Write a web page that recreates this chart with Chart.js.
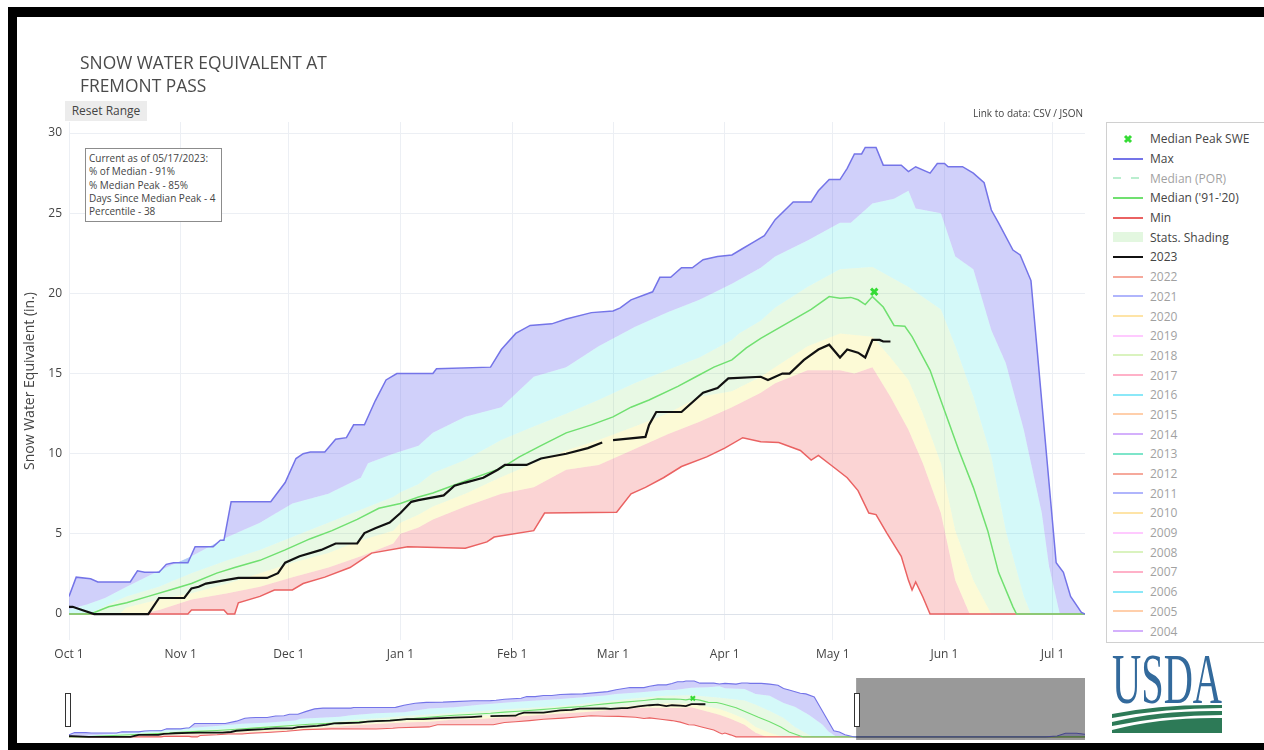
<!DOCTYPE html>
<html>
<head>
<meta charset="utf-8">
<script src="https://cdn.jsdelivr.net/npm/chart.js@4.4.0/dist/chart.umd.min.js"></script>
<style>
body { margin: 0; background: #fff; font-family: 'Open Sans', verdana, arial, sans-serif; color: #444; }
#page { position: relative; width: 1264px; height: 750px; overflow: hidden; background: #fff; }
#main { position: absolute; left: 0; top: 0; width: 1264px; height: 670px; }
#slider { position: absolute; left: 0; top: 670px; width: 1264px; height: 80px; }
#title { position: absolute; left: 80px; top: 51px; font-size: 17.4px; line-height: 23px; color: #4a4a4a; }
#reset { position: absolute; left: 65px; top: 101px; width: 82px; height: 20px; line-height: 20px; font-size: 12px; text-align: center; background: #ececec; }
#link { position: absolute; left: 880px; top: 106px; width: 203px; text-align: right; font-size: 10px; line-height: 14px; }
#info { position: absolute; left: 85px; top: 148px; width: 137px; height: 74px; box-sizing: border-box; border: 1px solid #8c8c8c; padding: 3px 0 0 3px; font-size: 10px; line-height: 13.3px; background: #fff; white-space: nowrap; }
#legend { position: absolute; left: 1106px; top: 122px; width: 160px; height: 521px; box-sizing: border-box; border: 1px solid #d0d0d0; padding: 6px 0 0 6px; background: #fff; }
.item { display: flex; align-items: center; height: 19.7px; font-size: 12px; white-space: nowrap; }
.item svg { margin-right: 7px; flex: none; }
.item.off { opacity: 0.5; }
#usda { position: absolute; left: 1111px; top: 654px; }
#frame { position: absolute; left: 8px; top: 7px; width: 1256px; height: 743px; box-sizing: border-box; border-left: 9px solid #000; border-top: 10px solid #000; border-bottom: 7px solid #000; pointer-events: none; }
</style>
</head>
<body>
<div id="page">
  <canvas id="main" width="1264" height="670"></canvas>
  <canvas id="slider" width="1264" height="80"></canvas>
  <div id="title">SNOW WATER EQUIVALENT AT<br>FREMONT PASS</div>
  <div id="reset">Reset Range</div>
  <div id="link">Link to data: CSV / JSON</div>
  <div id="info">Current as of 05/17/2023:<br>% of Median - 91%<br>% Median Peak - 85%<br>Days Since Median Peak - 4<br>Percentile - 38</div>
  <div id="legend"></div>
  <svg id="usda" width="112" height="80" viewBox="0 0 112 80">
    <text x="1" y="49" font-family="Liberation Serif" font-size="72" textLength="110" lengthAdjust="spacingAndGlyphs" fill="#336a9c">USDA</text>
    <path d="M1,60 Q50,50 111,51 L111,54 Q55,54 1,64 Z" fill="#2d7a57"/>
    <path d="M1,68 Q50,56 111,57 L111,61 Q55,61 1,72 Z" fill="#2d7a57"/>
    <path d="M1,76 Q50,63 111,64 L111,79 L1,79 Z" fill="#2d7a57"/>
  </svg>
  <div id="frame"></div>
</div>
<script>
// days counted from Oct 1 (water year 2023)
const monthDays = [0, 31, 61, 92, 123, 151, 182, 212, 243, 273];
const monthLabels = ["Oct 1", "Nov 1", "Dec 1", "Jan 1", "Feb 1", "Mar 1", "Apr 1", "May 1", "Jun 1", "Jul 1"];
const yTicks = [0, 5, 10, 15, 20, 25, 30];
const viewEnd = 282;
const yearEnd = 364;

const maxDays = [0,2,6,8,17,19,21,25,27,29,33,35,40,42,43,45,56,60,63,65,67,71,74,77,79,82,85,88,91,101,102,117,120,124,128,134,138,145,151,153,156,162,164,167,170,173,176,180,184,187,190,193,196,201,206,208,211,214,216,218,220,221,224,226,231,233,235,239,241,243,244,248,251,254,256,258,262,264,267,274,276,278,281,282,350,354,357,361,364];
const maxSwe = [1.1,2.3,2.2,2.0,2.0,2.7,2.6,2.6,3.1,3.2,3.2,4.2,4.2,4.6,4.6,7.0,7.0,8.2,9.7,10.0,10.1,10.1,10.9,11.0,11.8,11.8,13.3,14.6,15.0,15.0,15.3,15.4,16.5,17.5,18.0,18.1,18.4,18.8,18.9,19.1,19.6,20.1,21.0,21.0,21.6,21.6,22.1,22.3,22.4,22.8,23.2,23.6,24.6,25.7,25.7,26.4,27.1,27.1,27.8,28.7,28.7,29.1,29.1,28.0,28.0,27.6,27.9,27.5,28.1,28.1,27.9,27.9,27.5,26.9,25.2,24.4,22.7,22.4,20.8,3.2,2.6,1.1,0.1,0,0,0.5,1.9,1.9,1.4];

const medianDays = [0,6,11,16,22,28,34,41,46,53,60,67,73,80,86,92,97,101,110,120,125,131,138,145,151,156,161,169,174,179,184,188,192,199,206,211,214,217,219,221,223,226,229,232,234,239,243,247,251,255,258,262,263,364];
const medianSwe = [0,0,0.45,0.7,1.1,1.5,1.9,2.55,2.9,3.35,4.0,4.7,5.2,5.9,6.6,6.9,7.3,7.55,8.3,9.1,9.8,10.5,11.3,11.8,12.3,12.9,13.35,14.2,14.8,15.4,15.85,16.6,17.2,18.1,19.0,19.8,19.7,19.75,19.6,19.3,19.8,19.15,18.0,17.95,17.3,15.2,12.7,10.2,7.9,5.2,2.6,0.45,0,0];

const minDays = [0,33,34,43,44,46,47,53,57,62,65,71,78,81,84,94,110,116,118,129,132,152,156,160,165,170,177,182,187,192,197,203,206,208,212,216,219,222,224,227,231,233,234,235,237,239,364];
const minSwe = [0,0,0.25,0.25,0,0,0.7,1.1,1.5,1.5,1.9,2.3,2.9,3.35,3.8,4.2,4.1,4.5,4.8,5.2,6.3,6.35,7.5,7.9,8.5,9.2,9.8,10.35,11.0,10.75,10.7,10.2,9.6,9.9,9.2,8.5,7.7,6.3,6.2,5.05,3.6,2.1,1.5,2.0,1.06,0,0];

// percentile band edges (stats shading)
const p90Days = [0,5,10,16,25,34,44,53,62,72,81,83,90,97,101,110,120,129,138,147,157,166,175,184,192,196,205,214,217,223,229,233,235,242,246,251,256,260,265,270,272,275,364];
const p90Swe = [0.3,0.6,1.0,1.7,2.7,3.6,4.8,5.7,6.9,7.5,8.5,9.4,10.0,10.5,11.3,12.3,12.9,14.8,15.4,16.7,17.9,18.8,19.6,20.6,21.6,22.3,23.3,24.4,24.4,25.6,25.9,26.4,25.3,25.0,22.3,21.5,17.7,15.65,11.5,6.3,3.0,0,0];

const p70Days = [0,6,12,16,25,34,44,53,62,72,81,90,92,97,101,110,120,129,138,147,157,166,175,184,186,192,196,205,214,223,233,242,246,251,256,260,265,267,364];
const p70Swe = [0,0.05,0.7,1.1,1.7,2.55,3.35,4.0,4.8,5.7,6.5,7.3,7.6,8.1,8.8,9.6,10.85,11.7,12.5,13.35,14.4,15.2,16.0,17.1,17.5,18.3,19.1,20.4,21.5,21.65,20.4,19.0,16.7,13.55,9.8,5.2,1.1,0,0];

const p30Days = [0,14,16,25,34,44,53,62,72,81,90,92,97,101,110,120,129,138,147,157,166,175,184,192,196,205,214,223,228,233,237,242,246,251,256,364];
const p30Swe = [0,0,0.4,0.9,1.3,1.9,2.55,3.2,3.8,4.6,5.2,5.7,6.2,6.7,7.5,8.55,9.4,10.2,10.85,11.7,12.5,13.55,13.9,14.8,15.4,16.7,17.5,17.3,16.0,14.6,12.5,9.4,5.2,2.1,0,0];

const p10Days = [0,20,25,34,44,53,62,72,81,90,92,97,101,110,120,129,138,147,157,166,175,184,192,196,205,214,218,223,228,233,237,242,246,250,364];
const p10Swe = [0,0,0.25,0.9,1.3,1.7,2.3,2.9,3.6,4.4,5.0,5.4,5.9,6.7,7.5,7.9,9.0,9.3,10.3,11.2,12.0,12.9,13.8,14.4,15.2,15.2,15.0,15.4,13.55,11.5,9.4,6.3,2.1,0,0];

const wy2023Days = [0,1,3,7,22,25,32,34,36,38,43,47,55,58,60,64,70,74,80,82,85,89,92,95,97,104,107,110,115,119,121,127,131,138,144,148,149,151,160,161,163,170,176,180,183,192,194,198,200,204,208,211,214,216,219,221,223,225,226,228];
const wy2023Swe = [0.45,0.45,0.3,0,0,1.0,1.0,1.6,1.7,1.9,2.1,2.25,2.25,2.55,3.2,3.6,4.0,4.4,4.4,5.05,5.35,5.7,6.3,7.0,7.1,7.4,8.0,8.2,8.5,9.0,9.3,9.3,9.7,10.0,10.35,10.7,null,10.85,11.05,11.8,12.6,12.6,13.8,14.1,14.7,14.8,14.6,15.0,15.0,15.85,16.5,16.8,16.0,16.5,16.3,16.0,17.1,17.1,17.0,17.0];

const peakDays = [223.5];
const peakSwe = [20.1];

const pastYears = ["2022","2021","2020","2019","2018","2017","2016","2015","2014","2013","2012","2011","2010","2009","2008","2007","2006","2005","2004"];
const pastColors = ["#EF553B","#636efa","#FECB52","#FF97FF","#B6E880","#FF6692","#19d3f3","#FFA15A","#ab63fa","#00cc96","#EF553B","#636efa","#FECB52","#FF97FF","#B6E880","#FF6692","#19d3f3","#FFA15A","#ab63fa"];

const maxColor = "rgb(116,116,232)";
const minColor = "rgb(234,98,98)";
const medianColor = "rgb(112,224,112)";
const peakColor = "#35dc35";

function pts(days, vals) {
  return days.map((d, i) => ({ x: d, y: vals[i] }));
}

function buildDatasets(small) {
  const lw = small ? 1.1 : 1.5;
  const sets = [
    { label: "Median Peak SWE", swatch: "x", data: pts(peakDays, peakSwe), showLine: false,
      pointStyle: "crossRot", pointRadius: small ? 3 : 4.5, pointBorderWidth: small ? 2 : 3,
      borderColor: peakColor, backgroundColor: peakColor, order: -2 },
    { label: "Max", swatch: "line", data: pts(maxDays, maxSwe), borderColor: maxColor, borderWidth: lw,
      fill: 26, backgroundColor: "rgba(100,100,240,0.30)" },
    { label: "Median (POR)", swatch: "dash", legendOnly: true, data: [], borderColor: "rgb(120,222,160)" },
    { label: "Median ('91-'20)", swatch: "line", data: pts(medianDays, medianSwe), borderColor: medianColor, borderWidth: lw },
    { label: "Min", swatch: "line", data: pts(minDays, minSwe), borderColor: minColor, borderWidth: lw },
    { label: "Stats. Shading", swatch: "fill", data: pts(p70Days, p70Swe), borderColor: "transparent", borderWidth: 0,
      fill: 27, backgroundColor: "rgba(110,220,90,0.16)" },
    { label: "2023", swatch: "line", data: pts(wy2023Days, wy2023Swe), borderColor: "#111", borderWidth: small ? 1.8 : 2.2, order: -1 }
  ];
  pastYears.forEach((y, i) => {
    sets.push({ label: y, swatch: "line", legendOnly: true, data: [], borderColor: pastColors[i] });
  });
  // unlabeled band edges, index 26..28
  sets.push({ data: pts(p90Days, p90Swe), borderColor: "transparent", borderWidth: 0, fill: 5, backgroundColor: "rgba(0,222,222,0.17)" });
  sets.push({ data: pts(p30Days, p30Swe), borderColor: "transparent", borderWidth: 0, fill: 28, backgroundColor: "rgba(240,230,70,0.22)" });
  sets.push({ data: pts(p10Days, p10Swe), borderColor: "transparent", borderWidth: 0, fill: 4, backgroundColor: "rgba(240,90,90,0.26)" });
  sets.forEach(s => {
    if (s.pointRadius === undefined) s.pointRadius = 0;
    s.tension = 0;
  });
  return sets;
}

Chart.defaults.font.family = "'Open Sans', verdana, arial, sans-serif";
Chart.defaults.color = "#444";

const mainChart = new Chart(document.getElementById("main"), {
  type: "line",
  data: { datasets: buildDatasets(false) },
  options: {
    responsive: false,
    animation: false,
    devicePixelRatio: 1,
    layout: { padding: { left: 0, right: 179, top: 122, bottom: 0 } },
    plugins: { legend: { display: false }, tooltip: { enabled: false }, filler: { drawTime: "beforeDatasetsDraw" } },
    scales: {
      x: {
        type: "linear", min: 0, max: viewEnd,
        afterBuildTicks: (s) => { s.ticks = monthDays.map(v => ({ value: v })); },
        afterFit: (s) => { s.height = 30; },
        ticks: { callback: (v) => monthLabels[monthDays.indexOf(v)], padding: 7, maxRotation: 0, autoSkip: false, font: { size: 12 } },
        grid: { color: "#eceff4", drawTicks: false },
        border: { display: false }
      },
      y: {
        type: "linear", min: -1.62, max: 30.69,
        afterBuildTicks: (s) => { s.ticks = yTicks.map(v => ({ value: v })); },
        afterFit: (s) => { s.width = 69; },
        ticks: { padding: 7, font: { size: 12 } },
        grid: { color: (c) => (c.tick && c.tick.value === 0 ? "#dde2ea" : "#eceff4"), drawTicks: false },
        border: { display: false },
        title: { display: true, text: "Snow Water Equivalent (in.)", font: { size: 14 }, padding: { top: 22 } }
      }
    }
  }
});

const sliderMask = {
  id: "sliderMask",
  afterDraw(chart) {
    const { ctx, chartArea: a, scales: { x } } = chart;
    const x1 = x.getPixelForValue(viewEnd);
    ctx.save();
    ctx.fillStyle = "rgba(0,0,0,0.4)";
    ctx.fillRect(x1, a.top, a.right - x1, a.bottom - a.top);
    ctx.fillStyle = "#fff";
    ctx.strokeStyle = "#333";
    ctx.lineWidth = 1;
    [a.left - 1, x1 + 1].forEach(px => {
      ctx.fillRect(px - 2, a.top + 16, 4, 32);
      ctx.strokeRect(Math.round(px) - 2.5, a.top + 15.5, 5, 33);
    });
    ctx.restore();
  }
};

new Chart(document.getElementById("slider"), {
  type: "line",
  data: { datasets: buildDatasets(true) },
  options: {
    responsive: false,
    animation: false,
    devicePixelRatio: 1,
    layout: { padding: { left: 69, right: 179, top: 8, bottom: 10 } },
    plugins: { legend: { display: false }, tooltip: { enabled: false }, filler: { drawTime: "beforeDatasetsDraw" } },
    scales: {
      x: { type: "linear", min: 0, max: yearEnd, display: false },
      y: { type: "linear", min: -1.62, max: 30.69, display: false }
    }
  },
  plugins: [sliderMask]
});

function swatchSvg(ds) {
  const c = ds.borderColor;
  if (ds.swatch === "x") {
    return '<svg width="30" height="14"><path d="M12,4 L18,10 M18,4 L12,10" stroke="' + c + '" stroke-width="3"/></svg>';
  }
  if (ds.swatch === "dash") {
    return '<svg width="30" height="14"><line x1="0" y1="7" x2="30" y2="7" stroke="' + c + '" stroke-width="2" stroke-dasharray="8,10"/></svg>';
  }
  if (ds.swatch === "fill") {
    return '<svg width="30" height="14"><rect x="0" y="2" width="30" height="10" fill="#e3f7e0"/></svg>';
  }
  return '<svg width="30" height="14"><line x1="0" y1="7" x2="30" y2="7" stroke="' + c + '" stroke-width="2"/></svg>';
}

const legendBox = document.getElementById("legend");
mainChart.data.datasets.forEach(ds => {
  if (!ds.label) return;
  const row = document.createElement("div");
  row.className = "item" + (ds.legendOnly ? " off" : "");
  row.innerHTML = swatchSvg(ds) + "<span></span>";
  row.querySelector("span").textContent = ds.label;
  legendBox.appendChild(row);
});
</script>
</body>
</html>
